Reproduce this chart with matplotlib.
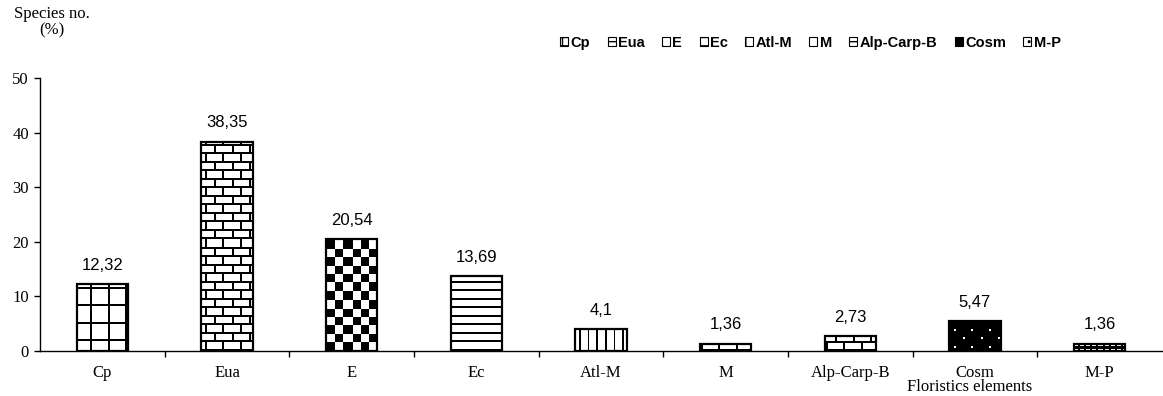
import numpy as np
import matplotlib.pyplot as plt
from matplotlib.patches import Patch

categories = ['Cp', 'Eua', 'E', 'Ec', 'Atl-M', 'M', 'Alp-Carp-B', 'Cosm', 'M-P']
values = [12.32, 38.35, 20.54, 13.69, 4.1, 1.36, 2.73, 5.47, 1.36]
value_labels = ['12,32', '38,35', '20,54', '13,69', '4,1', '1,36', '2,73', '5,47', '1,36']
fills = ['grid', 'bricks', 'checker', 'hlines', 'vlines', 'small_bricks',
         'small_bricks', 'dots', 'dashes']
legend_hatches = ['++', '-|', 'xx', '--', '||', '', '-|', '', '..']


# pixel textures, 1 = black ink
def texture(kind, h, w):
    yy, xx = np.mgrid[0:h, 0:w].astype(float)
    if kind == 'grid':
        ink = (np.mod(xx - 13, 17) < 2) | (np.mod(yy - 10, 17) < 2)
    elif kind == 'bricks':
        row = np.floor(yy / 8.5)
        ink = (np.mod(yy, 8.5) < 2) | (np.mod(xx + (row % 2) * 8.5 - 4, 17) < 2)
    elif kind == 'small_bricks':
        row = np.floor(yy / 7.5)
        ink = (np.mod(yy, 7.5) < 1.6) | (np.mod(xx + (row % 2) * 8.5 - 1, 17) < 1.6)
    elif kind == 'checker':
        ink = (np.floor(xx / 8.4) + np.floor(yy / 8.4)) % 2 == 0
    elif kind == 'hlines':
        ink = np.mod(yy, 8.5) < 2
    elif kind == 'vlines':
        ink = np.mod(xx - 4, 8.3) < 1.6
    elif kind == 'dots':
        row = np.floor(yy / 8.5)
        dot = (np.mod(xx - 5 + (row % 2) * 8.5, 17) < 2) & (np.mod(yy - 3, 8.5) < 2)
        ink = ~dot
    else:
        dash = (np.mod(yy, 4) < 1.5) & (np.mod(xx, 6) < 3.5)
        ink = ~dash
    return ink.astype(float)


fig = plt.figure(figsize=(11.63, 3.96), dpi=100)
ax = fig.add_axes([40 / 1163, 45 / 396, 1122 / 1163, 273 / 396])

x = np.arange(len(categories))
ax.set_xlim(-0.5, len(categories) - 0.5)
ax.set_ylim(0, 50)

bars = ax.bar(x, values, width=0.41, facecolor='none', edgecolor='black',
              linewidth=1.6, zorder=3)

# fill each bar with its pixel texture, clipped to the bar outline
for bar, kind in zip(bars, fills):
    x0, y0 = bar.get_x(), bar.get_y()
    x1, y1 = x0 + bar.get_width(), y0 + bar.get_height()
    (px0, py0), (px1, py1) = ax.transData.transform([(x0, y0), (x1, y1)])
    h = max(int(round(py1 - py0)), 1)
    w = max(int(round(px1 - px0)), 1)
    img = ax.imshow(texture(kind, h, w), cmap='gray_r', vmin=0, vmax=1,
                    origin='lower', extent=(x0, x1, y0, y1),
                    interpolation='nearest', aspect='auto', zorder=2)
    img.set_clip_path(bar)

for bar, lab in zip(bars, value_labels):
    ax.annotate(lab, (bar.get_x() + bar.get_width() / 2, bar.get_height()),
                xytext=(0, 8), textcoords='offset points', ha='center',
                va='bottom', fontsize=12, family='Liberation Sans')

ax.spines['top'].set_visible(False)
ax.spines['right'].set_visible(False)
ax.spines['left'].set_linewidth(1.0)
ax.spines['bottom'].set_linewidth(1.0)

ax.set_yticks(np.arange(0, 51, 10))
ax.set_xticks(np.arange(0.5, len(categories) - 0.5, 1))
ax.set_xticklabels([])
ax.set_xticks(x, minor=True)
ax.set_xticklabels(categories, minor=True)
ax.tick_params(axis='x', which='major', direction='out', length=4, width=1)
ax.tick_params(axis='x', which='minor', length=0, pad=10)
ax.tick_params(axis='y', direction='out', length=4, width=1, pad=4)
for t in ax.get_xticklabels(minor=True) + ax.get_yticklabels():
    t.set_family('Liberation Serif')
    t.set_fontsize(12)

fig.text(52 / 1163, 1 - 22 / 396, 'Species no.\n(%)', ha='center', va='center',
         family='Liberation Serif', fontsize=12, linespacing=1.05)
fig.text(970 / 1163, 1 - 387 / 396, 'Floristics elements', ha='center',
         va='center', family='Liberation Serif', fontsize=12)

handles = [Patch(facecolor='black' if k == 'dots' else 'white',
                 edgecolor='black', hatch=hh, linewidth=0.8)
           for k, hh in zip(fills, legend_hatches)]
fig.legend(handles, categories, loc='center left',
           bbox_to_anchor=(553 / 1163, 1 - 43 / 396), ncol=len(categories),
           frameon=False, borderpad=0, handlelength=0.55, handleheight=0.55,
           handletextpad=0.15, columnspacing=1.2,
           prop={'family': 'Liberation Sans', 'weight': 'bold', 'size': 10.5})

fig.savefig('out.png', dpi=100)
